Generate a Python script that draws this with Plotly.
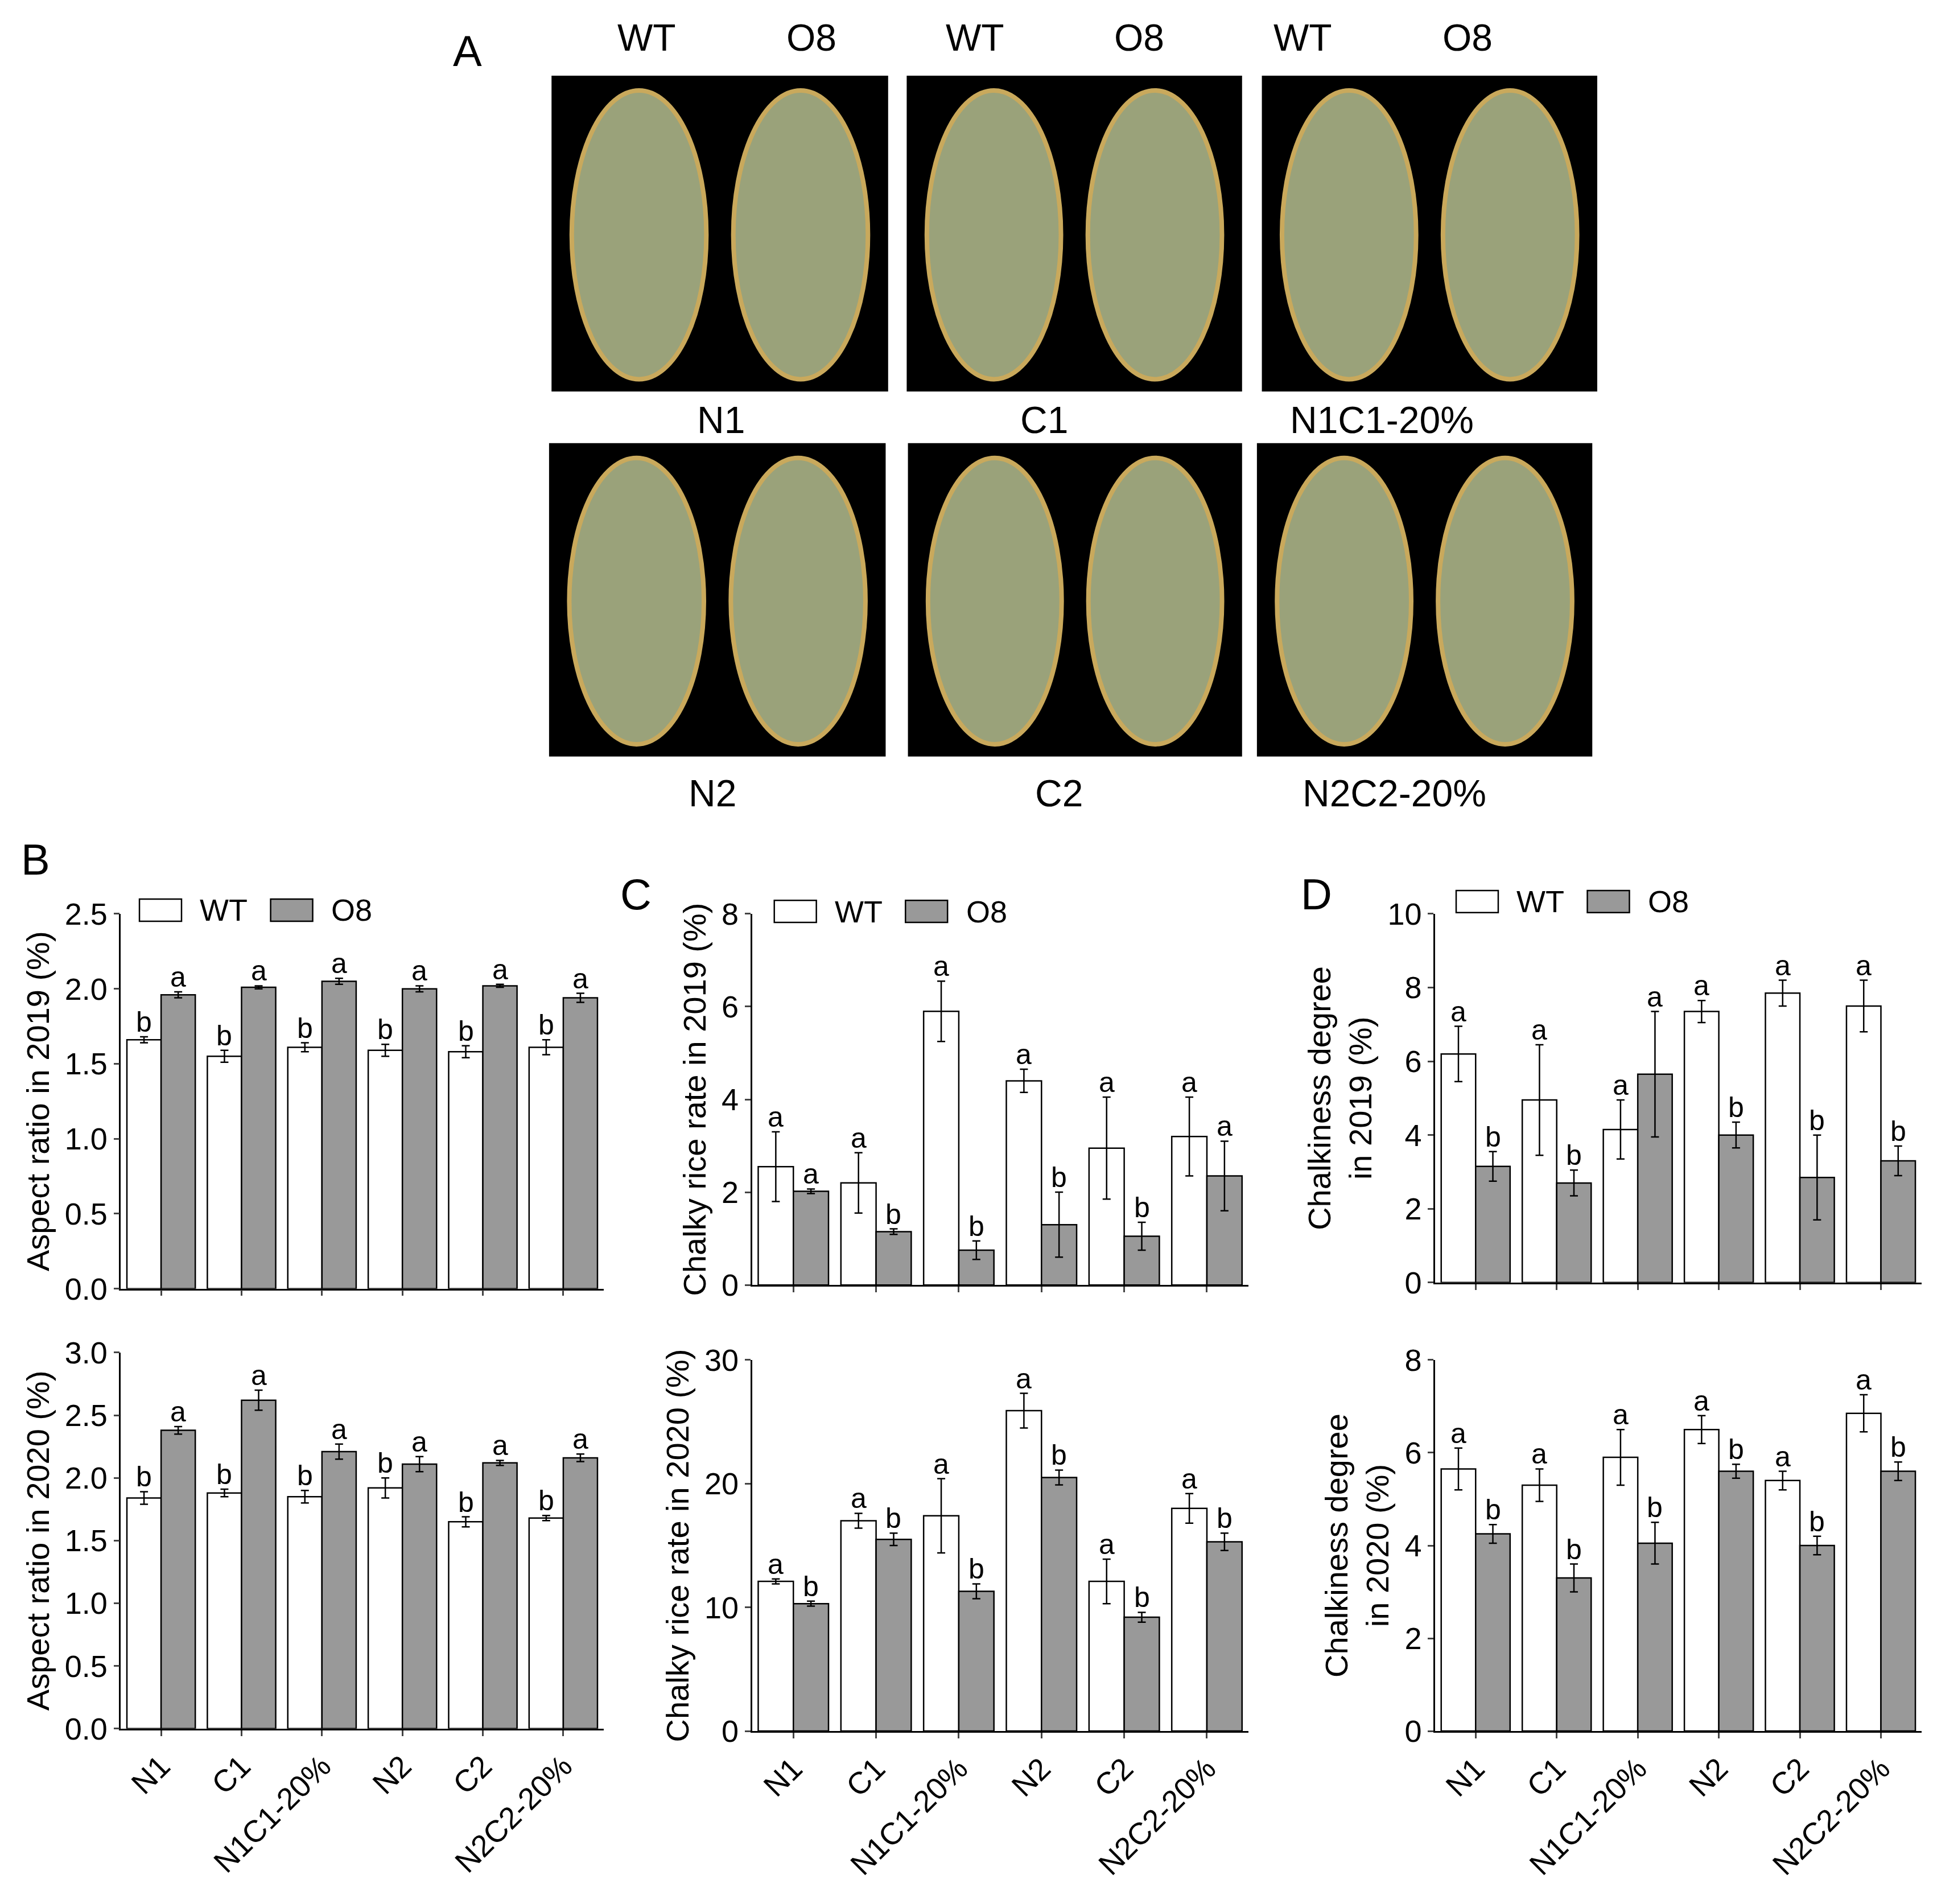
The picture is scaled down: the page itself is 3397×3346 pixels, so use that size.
import plotly.graph_objects as go

cats = ["N1", "C1", "N1C1-20%", "N2", "C2", "N2C2-20%"]

# B: aspect ratio
b19_wt = [1.66, 1.55, 1.61, 1.59, 1.58, 1.61]
b19_wt_err = [0.02, 0.04, 0.03, 0.04, 0.04, 0.05]
b19_o8 = [1.96, 2.01, 2.05, 2.00, 2.02, 1.94]
b19_o8_err = [0.02, 0.01, 0.02, 0.02, 0.01, 0.03]
b20_wt = [1.84, 1.88, 1.85, 1.92, 1.65, 1.68]
b20_wt_err = [0.05, 0.03, 0.05, 0.08, 0.04, 0.02]
b20_o8 = [2.38, 2.62, 2.21, 2.11, 2.12, 2.16]
b20_o8_err = [0.03, 0.08, 0.06, 0.06, 0.02, 0.03]
# C: chalky rice rate
c19_wt = [2.55, 2.2, 5.9, 4.4, 2.95, 3.2]
c19_wt_err = [0.75, 0.65, 0.65, 0.25, 1.1, 0.85]
c19_o8 = [2.02, 1.15, 0.75, 1.3, 1.05, 2.35]
c19_o8_err = [0.05, 0.06, 0.2, 0.7, 0.3, 0.75]
c20_wt = [12.1, 17.0, 17.4, 25.9, 12.1, 18.0]
c20_wt_err = [0.2, 0.6, 3.0, 1.4, 1.8, 1.2]
c20_o8 = [10.3, 15.5, 11.3, 20.5, 9.2, 15.3]
c20_o8_err = [0.2, 0.5, 0.6, 0.6, 0.4, 0.7]
# D: chalkiness degree
d19_wt = [6.2, 4.95, 4.15, 7.35, 7.85, 7.5]
d19_wt_err = [0.75, 1.5, 0.8, 0.3, 0.35, 0.7]
d19_o8 = [3.15, 2.7, 5.65, 4.0, 2.85, 3.3]
d19_o8_err = [0.4, 0.35, 1.7, 0.35, 1.15, 0.4]
d20_wt = [5.65, 5.3, 5.9, 6.5, 5.4, 6.85]
d20_wt_err = [0.45, 0.35, 0.6, 0.3, 0.2, 0.4]
d20_o8 = [4.25, 3.3, 4.05, 5.6, 4.0, 5.6]
d20_o8_err = [0.2, 0.3, 0.45, 0.15, 0.2, 0.2]

letters = {
    1: (["b"] * 6, ["a"] * 6),
    2: (["b"] * 6, ["a"] * 6),
    3: (["a"] * 6, ["a", "b", "b", "b", "b", "a"]),
    4: (["a"] * 6, ["b"] * 6),
    5: (["a"] * 6, ["b", "b", "a", "b", "b", "b"]),
    6: (["a"] * 6, ["b"] * 6),
}

W, H = 1562, 1540  # reference layout units
def cx(x): return (x - 3) / W
def cy(y): return 1 - ((y - 14) / 0.988) / H
def dx(a, b): return [cx(a), cx(b)]
def dy(top, bot): return [cy(bot), cy(top)]

panels = [
    (1, b19_wt, b19_wt_err, b19_o8, b19_o8_err, dx(97, 487), dy(740, 1045), [0, 2.5], 0.5, ".1f", "Aspect ratio in 2019 (%)", False),
    (2, b20_wt, b20_wt_err, b20_o8, b20_o8_err, dx(97, 487), dy(1097, 1403), [0, 3.0], 0.5, ".1f", "Aspect ratio in 2020 (%)", True),
    (3, c19_wt, c19_wt_err, c19_o8, c19_o8_err, dx(607, 1008), dy(740, 1042), [0, 8], 2, "d", "Chalky rice rate in 2019 (%)", False),
    (4, c20_wt, c20_wt_err, c20_o8, c20_o8_err, dx(607, 1008), dy(1103, 1405), [0, 30], 10, "d", "Chalky rice rate in 2020 (%)", True),
    (5, d19_wt, d19_wt_err, d19_o8, d19_o8_err, dx(1159, 1552), dy(740, 1040), [0, 10], 2, "d", "Chalkiness degree<br>in 2019 (%)", False),
    (6, d20_wt, d20_wt_err, d20_o8, d20_o8_err, dx(1159, 1552), dy(1103, 1405), [0, 8], 2, "d", "Chalkiness degree<br>in 2020 (%)", True),
]

FONT = "Liberation Sans, Arial, sans-serif"
fig = go.Figure()
annos = []
shapes = []
layout = {}
for n, wt, wte, o8, o8e, xd, yd, rng, dt, fmt, title, bottom in panels:
    sfx = "" if n == 1 else str(n)
    err = lambda e: dict(type="data", array=e, color="black", thickness=2.5, width=7)
    fig.add_trace(go.Bar(x=cats, y=wt, error_y=err(wte), name="WT", marker=dict(color="white", line=dict(color="black", width=2.5)),
                         xaxis="x" + sfx, yaxis="y" + sfx, showlegend=False))
    fig.add_trace(go.Bar(x=cats, y=o8, error_y=err(o8e), name="O8", marker=dict(color="#999999", line=dict(color="black", width=2.5)),
                         xaxis="x" + sfx, yaxis="y" + sfx, showlegend=False))
    lw, lo = letters[n]
    for i in range(6):
        for off, v, e, t in ((-0.2125, wt[i], wte[i], lw[i]), (0.2125, o8[i], o8e[i], lo[i])):
            annos.append(dict(x=i + off, y=v + e, text=t, showarrow=False, xanchor="center", yanchor="bottom", yshift=-4,
                              xref="x" + sfx, yref="y" + sfx, font=dict(size=50, family=FONT, color="black")))
    layout["xaxis" + sfx] = dict(domain=xd, anchor="y" + sfx, range=[-0.5, 5.5], showline=True, linecolor="black", linewidth=2.5,
                                 ticks="outside", tickwidth=2.5, ticklen=10, showticklabels=bottom, tickangle=-45,
                                 tickfont=dict(size=54, family=FONT, color="black"), showgrid=False)
    layout["yaxis" + sfx] = dict(domain=yd, anchor="x" + sfx, range=rng, dtick=dt, tickformat=fmt, showline=True, linecolor="black",
                                 linewidth=2.5, ticks="outside", tickwidth=2.5, ticklen=10, showgrid=False, zeroline=False,
                                 tickfont=dict(size=54, family=FONT, color="black"),
                                 title=dict(text=title, font=dict(size=56, family=FONT, color="black"), standoff=10))

def txt(x, y, s, size=56, xanchor="center"):
    annos.append(dict(x=cx(x), y=cy(y), xref="paper", yref="paper", text=s, showarrow=False,
                      xanchor=xanchor, yanchor="middle", font=dict(size=size, family=FONT, color="black")))

# manual legends
for lx, ly in [(112, 737), (625, 738), (1176, 730)]:
    for k, (name, col) in enumerate([("WT", "white"), ("O8", "#999999")]):
        x0 = lx + k * 106
        shapes.append(dict(type="rect", xref="paper", yref="paper", x0=cx(x0), x1=cx(x0 + 34), y0=cy(ly + 9), y1=cy(ly - 9),
                           fillcolor=col, line=dict(color="black", width=2.5)))
        txt(x0 + 48, ly, name, 54, xanchor="left")

# Panel A: grain photo placeholders
boxes = [(445, 717, 58, 315), (732, 1003, 58, 315), (1019, 1290, 58, 315),
         (443, 715, 357, 612), (733, 1003, 357, 612), (1015, 1286, 357, 612)]
for x0, x1, y0, y1 in boxes:
    shapes.append(dict(type="rect", xref="paper", yref="paper", x0=cx(x0), x1=cx(x1), y0=cy(y1), y1=cy(y0),
                       fillcolor="black", line=dict(width=0), layer="below"))
    w = x1 - x0
    for c in (x0 + w * 0.26, x0 + w * 0.74):
        shapes.append(dict(type="circle", xref="paper", yref="paper", x0=cx(c - w * 0.2), x1=cx(c + w * 0.2),
                           y0=cy(y1 - 10), y1=cy(y0 + 12), fillcolor="#9aa27a",
                           line=dict(color="#c9a95c", width=8), layer="below"))

for x, s in [(522, "WT"), (655, "O8"), (787, "WT"), (920, "O8"), (1052, "WT"), (1185, "O8")]:
    txt(x, 27, s, 66)
for x, y, s in [(582, 338, "N1"), (843, 338, "C1"), (1116, 338, "N1C1-20%"), (575, 642, "N2"), (855, 642, "C2"), (1126, 642, "N2C2-20%")]:
    txt(x, y, s, 66)
txt(377, 38, "A", 76)
txt(28, 696, "B", 76)
txt(513, 724, "C", 76)
txt(1063, 724, "D", 76)

fig.update_layout(width=3397, height=3346, margin=dict(l=0, r=0, t=0, b=0), plot_bgcolor="white", paper_bgcolor="white",
                  barmode="group", bargap=0.15, bargroupgap=0, annotations=annos, shapes=shapes, **layout)
fig.write_html("out.html")
